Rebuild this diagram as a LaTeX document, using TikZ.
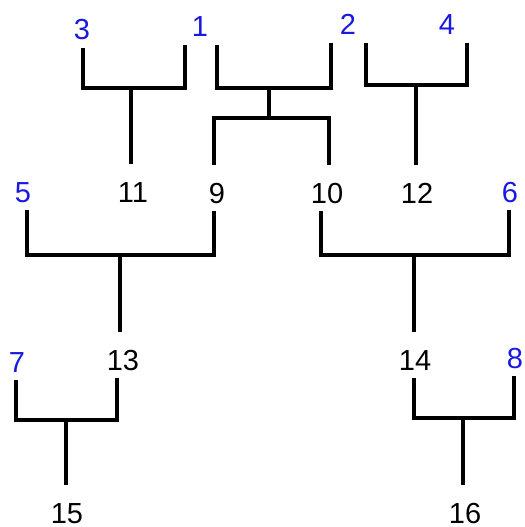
\documentclass[tikz,border=0pt]{standalone}
\usepackage{fontspec}
\setmainfont{Liberation Sans}
\usepackage{tikz}
\definecolor{leafblue}{RGB}{25,25,225}
\tikzstyle{num} = [
  inner sep=0pt, anchor=base, text height=0.76cm, text depth=0.16cm,
  font=\fontsize{16.5}{18}\selectfont
]
\tikzstyle{leaf} = [num, text=leafblue]
\tikzstyle{link} = [line width=2pt]

\begin{document}
\begin{tikzpicture}[x=0.02cm, y=-0.02cm]
  \useasboundingbox (0,0) rectangle (524,527);

  % Leaves
  \node[leaf] (n3) at (82,40) {3};
  \node[leaf] (n1) at (200,37) {1};
  \node[leaf] (n2) at (348,35) {2};
  \node[leaf] (n4) at (447,35) {4};
  \node[leaf] (n5) at (23,202) {5};
  \node[leaf] (n6) at (510,202) {6};
  \node[leaf] (n7) at (17,372) {7};
  \node[leaf] (n8) at (515,368) {8};

  % Merged numbers
  \node[num] (n11) at (133,202) {11};
  \node[num] (n9) at (217,203) {9};
  \node[num] (n10) at (327,203) {10};
  \node[num] (n12) at (417,203) {12};
  \node[num] (n13) at (123,370) {13};
  \node[num] (n14) at (415,370) {14};
  \node[num, text depth=0pt] (n15) at (67,523) {15};
  \node[num, text depth=0pt] (n16) at (465,523) {16};

  % Junctions
  \coordinate (j11) at (131,88);
  \coordinate (j12) at (269,88);
  \coordinate (j910) at (269,118);
  \coordinate (j24) at (416,85);
  \coordinate (j13) at (120,255);
  \coordinate (j14) at (414,255);
  \coordinate (j15) at (66,420);
  \coordinate (j16) at (463,418);

  % Brackets
  \draw[link] ([shift={(1,0)}]n3.south) |- (j11) -| ([shift={(-15,0)}]n1.south);
  \draw[link] (j11) -- (j11 |- n11.north);

  \draw[link] ([shift={(17,0)}]n1.south) |- (j12) -| ([shift={(-17,0)}]n2.south);
  \draw[link] (j12) -- (j910);
  \draw[link] ([shift={(-3,0)}]n9.north) |- (j910) -| ([shift={(2,0)}]n10.north);

  \draw[link] ([shift={(18,0)}]n2.south) |- (j24) -| ([shift={(20,0)}]n4.south);
  \draw[link] (j24) -- (j24 |- n12.north);

  \draw[link] ([shift={(4,0)}]n5.south) |- (j13) -| ([shift={(-3,0)}]n9.south);
  \draw[link] (j13) -- (j13 |- n13.north);

  \draw[link] ([shift={(-6,0)}]n10.south) |- (j14) -| ([shift={(-1,0)}]n6.south);
  \draw[link] (j14) -- (j14 |- n14.north);

  \draw[link] ([shift={(-1,0)}]n7.south) |- (j15) -| ([shift={(-6,0)}]n13.south);
  \draw[link] (j15) -- (j15 |- n15.north);

  \draw[link] ([shift={(-1,0)}]n14.south) |- (j16) -| ([shift={(-1,0)}]n8.south);
  \draw[link] (j16) -- (j16 |- n16.north);

\end{tikzpicture}
\end{document}
